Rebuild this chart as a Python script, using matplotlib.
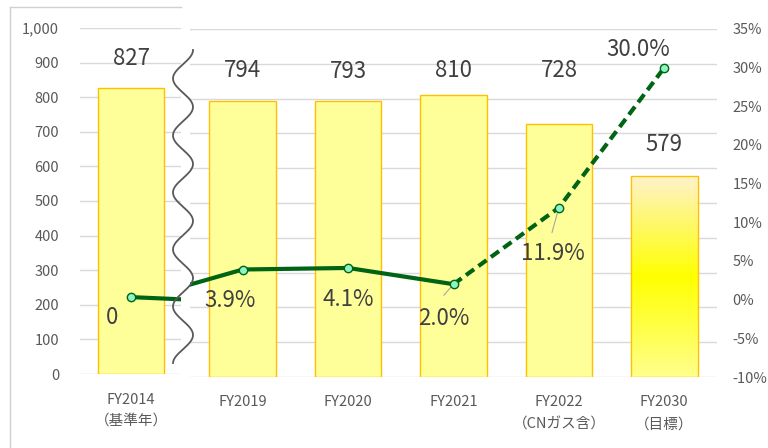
import numpy as np
import matplotlib
matplotlib.use('Agg')
import matplotlib.pyplot as plt
from matplotlib.lines import Line2D
from matplotlib.colors import LinearSegmentedColormap

plt.rcParams['font.family'] = ['Noto Sans CJK JP', 'DejaVu Sans']

W, H = 768, 448

# left panel (base year)
base_label = 'FY2014\n（基準年）'
base_value = 827
base_rate = [0.0, -0.6]          # FY2014 and where the line leaves the panel

# right panel
years = ['FY2019', 'FY2020', 'FY2021', 'FY2022\n（CNガス含）', 'FY2030\n（目標）']
values = [794, 793, 810, 728, 579]
rates = [0.0, 3.9, 4.1, 2.0, 11.9, 30.0]   # first one is FY2014, off the panel
rate_labels = ['3.9%', '4.1%', '2.0%', '11.9%', '30.0%']

TEXT = '#595959'
DARK = '#404040'
GRID = '#d9d9d9'
BAR = '#ffff99'
EDGE = '#ffc000'
GREEN = '#006414'
MARK = '#8cf5c3'


def px_axes(fig, x0, x1, y_top, y_bot):
    return fig.add_axes([x0 / W, (H - y_bot) / H, (x1 - x0) / W, (y_bot - y_top) / H])


def clean(ax):
    for s in ax.spines.values():
        s.set_visible(False)


fig = plt.figure(figsize=(W / 100, H / 100), dpi=100)

# ---- left panel ----
axL = px_axes(fig, 80, 181, 28, 374)
axL.bar([0], [base_value], width=0.63, color=BAR, edgecolor=EDGE, linewidth=1, zorder=2)
axL.set_xlim(-0.486, 0.476)
axL.set_ylim(0, 1000)
axL.set_yticks(range(0, 1001, 100))
axL.set_yticklabels(['{:,}'.format(v) for v in range(0, 1001, 100)], fontsize=10.5, color=TEXT)
axL.set_xticks([0])
axL.set_xticklabels([base_label], fontsize=10.5, color=TEXT, linespacing=1.6)
axL.tick_params(axis='y', length=0, pad=15)
axL.tick_params(axis='x', length=0, pad=14)
axL.yaxis.grid(True, color=GRID, lw=1)
axL.set_axisbelow(True)
clean(axL)
axL.annotate(str(base_value), (0, base_value), xytext=(0, 21), textcoords='offset points',
             ha='center', va='center', fontsize=16, color=DARK)

axL2 = axL.twinx()
axL2.set_ylim(-10, 35)
axL2.plot([0, 1], base_rate, color=GREEN, lw=3, solid_capstyle='butt', zorder=3)
axL2.plot([0], base_rate[:1], 'o', ms=6, mfc=MARK, mec=GREEN, mew=1, zorder=4)
axL2.annotate('0', (0, base_rate[0]), xytext=(-13.5, -15), textcoords='offset points',
              ha='center', va='center', fontsize=16, color=DARK)
axL2.set_yticks([])
clean(axL2)

# ---- right panel ----
axR = px_axes(fig, 190, 717, 29, 377)
xs = np.arange(1, len(years) + 1)
bars = axR.bar(xs, values, width=0.63, color=BAR, edgecolor=EDGE, linewidth=1, zorder=2)

# gradient fill for the FY2030 target bar
last = bars[-1]
last.set_facecolor('none')
grad = LinearSegmentedColormap.from_list('g', ['#ffff8c', '#ffff00', '#fff2cc'])
img = axR.imshow(np.linspace(0, 1, 256).reshape(-1, 1), cmap=grad, origin='lower', aspect='auto',
                 extent=[xs[-1] - 0.315, xs[-1] + 0.315, 0, values[-1]], zorder=1.9)
img.set_clip_path(last)

axR.set_xlim(0.5, 5.5)
axR.set_ylim(0, 1000)
axR.set_yticks(range(0, 1001, 100))
axR.tick_params(axis='y', labelleft=False, length=0)
axR.set_xticks(xs)
axR.set_xticklabels(years, fontsize=10.5, color=TEXT, linespacing=1.75)
axR.tick_params(axis='x', length=0, pad=13)
axR.yaxis.grid(True, color=GRID, lw=1)
axR.set_axisbelow(True)
clean(axR)

# value labels sit at a common height except the target bar
value_offsets = [21.5, 21.5, 17.5, 38, 22]
for x, v, dy in zip(xs, values, value_offsets):
    axR.annotate(str(v), (x, v), xytext=(0, dy), textcoords='offset points',
                 ha='center', va='center', fontsize=16, color=DARK)

axR2 = axR.twinx()
axR2.set_ylim(-10, 35)
rx = np.arange(len(rates))
axR2.plot(rx[:4], rates[:4], color=GREEN, lw=3, solid_capstyle='butt', zorder=3)
axR2.plot(rx[3:], rates[3:], color=GREEN, lw=3, linestyle=(0, (2.4, 1.3)), zorder=3)
axR2.plot(rx[1:], rates[1:], 'o', ms=6, mfc=MARK, mec=GREEN, mew=1, zorder=4)
axR2.set_yticks(range(-10, 36, 5))
axR2.set_yticklabels(['{}%'.format(v) for v in range(-10, 36, 5)], fontsize=10.5, color=TEXT)
axR2.tick_params(axis='y', length=0, pad=11)
clean(axR2)

label_offsets = [(-9.5, -22), (0, -23), (-7, -24.5), (-4.5, -33), (-18.5, 13)]
leaders = {2: (-7, -8), 3: (-5, -18)}
for i, (lab, off) in enumerate(zip(rate_labels, label_offsets)):
    x, r = rx[i + 1], rates[i + 1]
    axR2.annotate(lab, (x, r), xytext=off, textcoords='offset points',
                  ha='center', va='center', fontsize=16, color=DARK, zorder=5)
    if i in leaders:
        axR2.annotate('', (x, r), xytext=leaders[i], textcoords='offset points',
                      arrowprops=dict(arrowstyle='-', color='#a6a6a6', lw=0.8,
                                      shrinkA=0, shrinkB=3))

# ---- decorations: frame, break mark ----
fig.add_artist(Line2D([9.5 / W, 9.5 / W], [0, (H - 7) / H], transform=fig.transFigure,
                      color='#d0d0d0', lw=1))
fig.add_artist(Line2D([9.5 / W, 181 / W], [(H - 7) / H, (H - 7) / H], transform=fig.transFigure,
                      color='#d0d0d0', lw=1))
wy = np.linspace(50, 363, 400)
wx = 183 + 10 * np.cos(2 * np.pi * (wy - 50) / 57)
fig.add_artist(Line2D(wx / W, (H - wy) / H, transform=fig.transFigure,
                      color='#595959', lw=1.3, zorder=10))

fig.savefig('out.png', dpi=100)
